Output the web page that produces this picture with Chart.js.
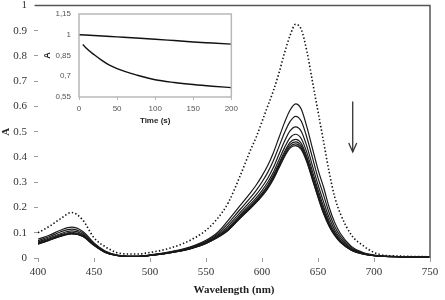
<!DOCTYPE html>
<html>
<head>
<meta charset="utf-8">
<script src="https://cdn.jsdelivr.net/npm/chart.js@4"></script>
<style>
  html,body{margin:0;padding:0;background:#fff;}
  #wrap{position:relative;width:445px;height:300px;}
  #main{position:absolute;left:0;top:0;}
  #inset{position:absolute;left:38px;top:7px;background:#fff;}
</style>
</head>
<body>
<div id="wrap">
  <canvas id="main" width="445" height="300"></canvas>
  <canvas id="inset" width="204" height="119"></canvas>
</div>
<script>
// wavelengths (nm)
const wl = [400,410,420,430,440,450,460,470,480,490,500,510,520,530,540,550,560,570,580,590,595,600,605,610,615,620,625,630,635,640,645,650,655,660,665,670,680,690,700,710,720,735,750];

// initial spectrum (dotted)
const s0 = [.100,.125,.155,.180,.150,.080,.045,.022,.016,.016,.022,.030,.042,.058,.080,.110,.155,.220,.320,.430,.480,.540,.600,.660,.730,.810,.880,.925,.905,.820,.700,.580,.460,.340,.240,.175,.090,.050,.022,.010,.008,.006,.005];

// spectra after addition (solid)
const s1 = [.075,.090,.110,.122,.105,.060,.028,.013,.008,.008,.012,.018,.026,.036,.050,.070,.100,.150,.205,.260,.290,.325,.365,.415,.475,.535,.585,.610,.590,.520,.435,.350,.280,.200,.140,.097,.045,.022,.012,.008,.006,.005,.004];
const s2 = [.069,.084,.103,.114,.099,.057,.026,.012,.007,.007,.011,.017,.025,.034,.048,.066,.094,.138,.190,.241,.269,.301,.338,.384,.439,.495,.540,.561,.542,.478,.398,.317,.249,.178,.124,.087,.041,.020,.011,.007,.006,.005,.004];
const s3 = [.064,.079,.096,.107,.094,.055,.025,.011,.007,.007,.011,.016,.024,.033,.046,.063,.089,.128,.178,.226,.252,.281,.315,.357,.409,.461,.503,.519,.502,.443,.366,.290,.222,.159,.111,.078,.037,.019,.010,.007,.005,.004,.004];
const s4 = [.060,.075,.092,.102,.090,.053,.024,.011,.007,.007,.011,.016,.023,.032,.044,.061,.085,.121,.169,.215,.239,.267,.299,.338,.387,.436,.476,.490,.473,.418,.344,.270,.203,.145,.102,.071,.034,.018,.010,.006,.005,.004,.004];
const s5 = [.058,.073,.089,.099,.088,.052,.023,.010,.006,.006,.010,.015,.023,.031,.043,.060,.083,.116,.163,.207,.231,.257,.288,.326,.373,.420,.458,.470,.454,.401,.329,.257,.191,.136,.096,.067,.032,.017,.009,.006,.005,.004,.004];
const s6 = [.057,.072,.087,.097,.087,.051,.023,.010,.006,.006,.010,.015,.022,.031,.043,.059,.082,.114,.160,.204,.226,.252,.282,.319,.366,.412,.449,.460,.444,.393,.321,.250,.184,.132,.093,.065,.031,.017,.009,.006,.005,.004,.004];
const s7 = [.056,.071,.086,.096,.086,.050,.022,.010,.006,.006,.010,.015,.022,.030,.042,.058,.081,.112,.157,.200,.223,.248,.278,.314,.360,.405,.441,.452,.436,.386,.315,.244,.179,.128,.090,.063,.031,.016,.009,.006,.005,.004,.004];
const s8 = [.055,.070,.085,.095,.085,.050,.022,.010,.006,.006,.010,.015,.022,.030,.042,.058,.080,.110,.155,.198,.220,.245,.274,.310,.355,.400,.435,.445,.430,.380,.310,.240,.175,.125,.088,.062,.030,.016,.009,.006,.005,.004,.004];
const solid = [s1,s2,s3,s4,s5,s6,s7,s8];

// inset: A vs time
const tUpper = [0,25,50,75,100,125,150,175,200];
const aUpper = [1.000,.993,.985,.977,.968,.958,.948,.940,.932];
const tLower = [5,10,20,30,40,50,60,75,100,125,150,175,200];
const aLower = [.930,.900,.855,.815,.780,.755,.735,.710,.675,.655,.640,.628,.618];
const insetYTicks = [0.55,0.7,0.85,1,1.15];
const insetYLabels = ["0,55","0,7","0,85","1","1,15"];

// arrow (nm, A from -> to)
const arrowNm = 681, arrowFrom = 0.62, arrowTo = 0.42;

const pts = ys => ys.map((y,i)=>({x:wl[i], y}));
const serif = "'Liberation Serif','DejaVu Serif',serif";
const sans = "'Liberation Sans','DejaVu Sans',sans-serif";

const datasets = solid.map(s=>({data:pts(s), borderColor:"#1a1a1a", borderWidth:1.2, pointRadius:0, cubicInterpolationMode:"monotone", fill:false}));
datasets.push({data:pts(s0), borderColor:"#111", borderWidth:1.6, borderDash:[1.4,2.2], pointRadius:0, cubicInterpolationMode:"monotone", fill:false});

const frame = { id:"frame", afterDraw(c){
  const a=c.chartArea, g=c.ctx, x=c.scales.x, y=c.scales.y;
  g.save(); g.strokeStyle="#555"; g.lineWidth=1.5;
  g.beginPath(); g.moveTo(a.left-3,a.top); g.lineTo(a.right,a.top); g.lineTo(a.right,a.bottom); g.stroke();
  // arrow
  const ax=x.getPixelForValue(arrowNm), y1=y.getPixelForValue(arrowFrom), y2=y.getPixelForValue(arrowTo);
  g.strokeStyle="#333"; g.lineWidth=1.3;
  g.beginPath(); g.moveTo(ax,y1); g.lineTo(ax,y2); g.stroke();
  g.beginPath(); g.moveTo(ax-4,y2-9); g.lineTo(ax,y2); g.lineTo(ax+4,y2-9); g.stroke();
  g.restore();
}};

new Chart(document.getElementById("main"), {
  type:"line",
  data:{datasets},
  plugins:[frame],
  options:{
    responsive:false, animation:false, devicePixelRatio:1,
    layout:{padding:{left:0,right:15,top:5,bottom:0}},
    plugins:{legend:{display:false}, tooltip:{enabled:false}},
    scales:{
      x:{type:"linear", min:400, max:750,
        afterFit:s=>{s.height=42;},
        ticks:{stepSize:50, padding:4, color:"#333", font:{family:serif,size:11}, maxRotation:0},
        grid:{drawOnChartArea:false, drawTicks:true, tickLength:4, color:"#999"},
        border:{display:false},
        title:{display:true, text:"Wavelength (nm)", color:"#222", font:{family:serif,size:11,weight:"bold"}, padding:{top:0,bottom:3}}
      },
      y:{min:0, max:1,
        afterFit:s=>{s.width=38;},
        ticks:{stepSize:0.1, padding:1, color:"#333", font:{family:serif,size:11,lineHeight:0.8}, callback:v=>String(Math.round(v*10)/10)},
        grid:{drawOnChartArea:false, drawTicks:true, tickLength:10, tickBorderDash:[0,6,4,100], color:"#999"},
        border:{display:false},
        title:{display:true, text:"A", color:"#222", font:{family:serif,size:11,weight:"bold"}, padding:{top:0,bottom:0}}
      }
    }
  }
});

const box = { id:"box", beforeDraw(c){
  const g=c.ctx; g.save(); g.fillStyle="#fff"; g.fillRect(0,0,c.width,c.height); g.restore();
}, afterDatasetsDraw(c){
  const a=c.chartArea, g=c.ctx; g.save(); g.strokeStyle="#b8b8b8"; g.lineWidth=1.5;
  g.strokeRect(a.left,a.top,a.right-a.left,a.bottom-a.top); g.restore();
}};

new Chart(document.getElementById("inset"), {
  type:"line",
  data:{datasets:[
    {data:tUpper.map((t,i)=>({x:t,y:aUpper[i]})), borderColor:"#111", borderWidth:1.4, pointRadius:0, cubicInterpolationMode:"monotone"},
    {data:tLower.map((t,i)=>({x:t,y:aLower[i]})), borderColor:"#111", borderWidth:1.4, pointRadius:0, cubicInterpolationMode:"monotone"}
  ]},
  plugins:[box],
  options:{
    responsive:false, animation:false, devicePixelRatio:1,
    layout:{padding:{left:0,right:7,top:7,bottom:0}},
    plugins:{legend:{display:false}, tooltip:{enabled:false}},
    scales:{
      x:{type:"linear", min:0, max:200,
        afterFit:s=>{s.height=29;},
        ticks:{stepSize:50, padding:4, color:"#555", font:{family:sans,size:8}, maxRotation:0},
        grid:{drawOnChartArea:false, tickLength:3, color:"#b8b8b8"},
        border:{display:false},
        title:{display:true, text:"Time (s)", color:"#222", font:{family:sans,size:8,weight:"bold"}, padding:{top:0,bottom:0}}
      },
      y:{min:0.55, max:1.15,
        afterFit:s=>{s.width=41;},
        afterBuildTicks:s=>{s.ticks=insetYTicks.map(v=>({value:v}));},
        ticks:{padding:0, color:"#555", font:{family:sans,size:8}, callback:(v,i)=>insetYLabels[i]},
        grid:{drawOnChartArea:false, drawTicks:true, tickLength:8, tickColor:"rgba(0,0,0,0)", color:"#b8b8b8"},
        border:{display:false},
        title:{display:true, text:"A", color:"#222", font:{family:sans,size:9,weight:"bold"}, padding:{top:4,bottom:0}}
      }
    }
  }
});
</script>
</body>
</html>
